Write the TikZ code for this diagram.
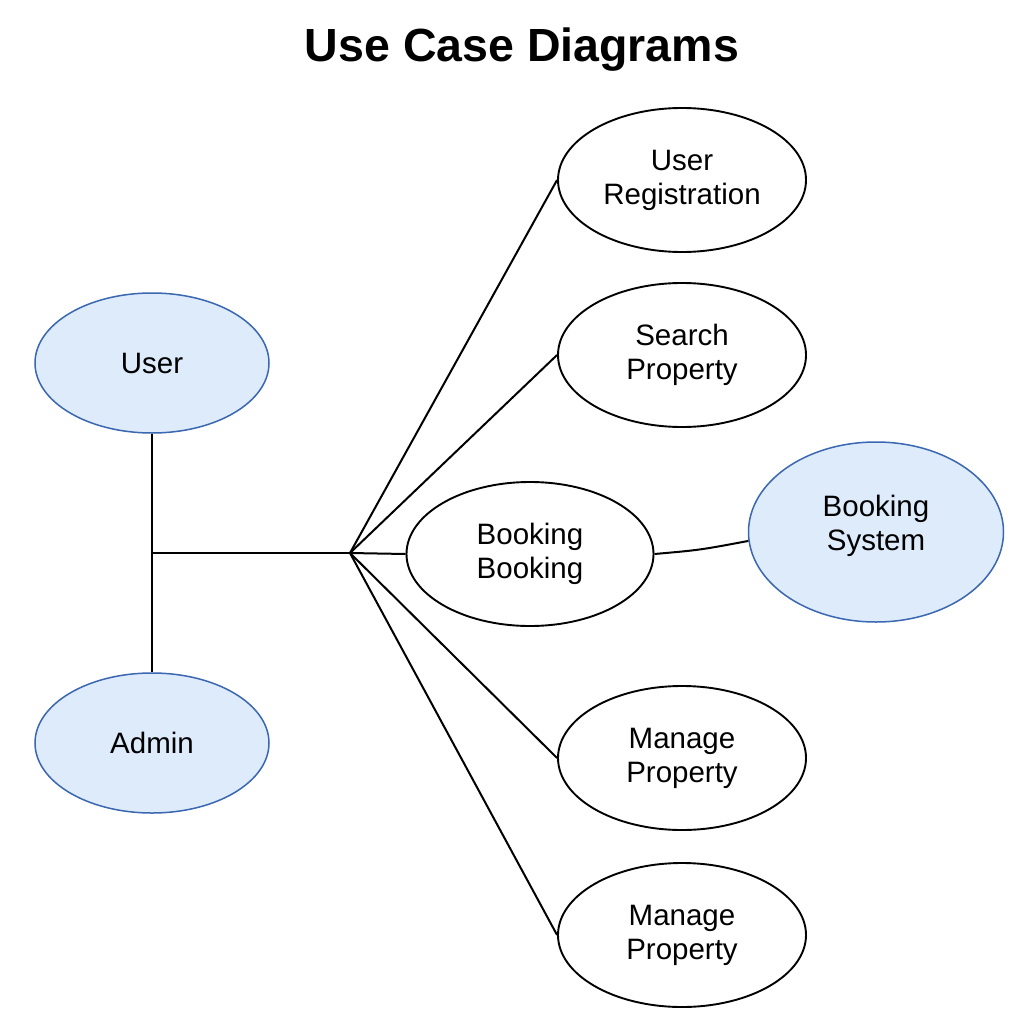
\documentclass[tikz,border=0pt]{standalone}
\usepackage{fontspec}
\setmainfont{Liberation Sans}
\usetikzlibrary{shapes.geometric}
\definecolor{actfill}{HTML}{DDEBFB}
\definecolor{actdraw}{HTML}{3A67B0}
\begin{document}
\begin{tikzpicture}[x=1pt,y=-1pt,
  uc/.style={ellipse,draw=black,line width=1.9pt,fill=white,minimum width=248pt,minimum height=144pt,inner sep=0pt,align=center,font=\fontsize{29.5}{34}\selectfont},
  actor/.style={uc,draw=actdraw,fill=actfill,line width=1.5pt},
  conn/.style={line width=2pt}]
\useasboundingbox (0,0) rectangle (1024,1024);
\node[font=\fontsize{46.5}{54}\selectfont\bfseries] (title) at (522,50) {Use Case Diagrams};
\node[uc] (reg) at (682,180) {User\\Registration};
\node[uc] (search) at (682,355) {Search\\Property};
\node[uc,minimum width=247pt] (booking) at (530,554) {Booking\\Booking};
\node[actor,minimum width=255pt,minimum height=180pt] (bsys) at (876,532) {};
\node (bsystext) at (876,526) [align=center,font=\fontsize{29.5}{34}\selectfont] {Booking\\System};
\node[uc] (manage1) at (682,758) {Manage\\Property};
\node[uc] (manage2) at (682,935) {Manage\\Property};
\node[actor,minimum width=234pt,minimum height=140pt] (user) at (152,363) {User};
\node[actor,minimum width=234pt,minimum height=140pt] (admin) at (152,743) {Admin};
\coordinate (hub) at (350,553);
\coordinate (junc) at (152,553);
\draw[conn] (user.south) -- (admin.north);
\draw[conn] (junc) -- (hub);
\draw[conn] (hub) -- (reg.west);
\draw[conn] (hub) -- (search.west);
\draw[conn] (hub) -- (booking.west);
\draw[conn] (hub) -- (manage1.west);
\draw[conn] (hub) -- (manage2.west);
\draw[conn] (booking.east) .. controls (700,550) .. (bsys.184);
\end{tikzpicture}
\end{document}
